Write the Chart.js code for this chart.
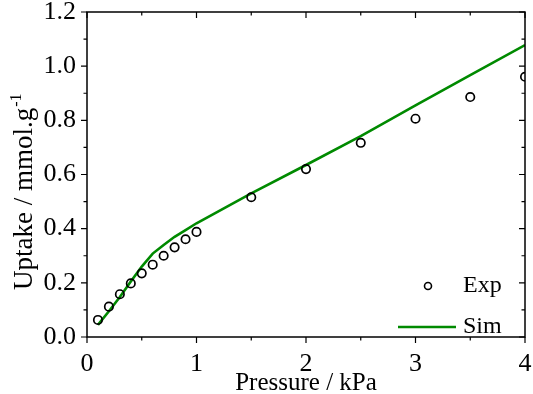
<!DOCTYPE html>
<html>
<head>
<meta charset="utf-8">
<script src="https://cdn.jsdelivr.net/npm/chart.js@4.4.0/dist/chart.umd.min.js"></script>
<style>
  html, body { margin: 0; padding: 0; background: #fff; }
  #wrap { width: 533px; height: 394px; }
</style>
</head>
<body>
<div id="wrap"><canvas id="grafico"></canvas></div>
<script>
// dados
const pressaoExp = [0.1, 0.2, 0.3, 0.4, 0.5, 0.6, 0.7, 0.8, 0.9, 1.0, 1.5, 2.0, 2.5, 3.0, 3.5, 4.0];
const uptakeExp = [0.063, 0.112, 0.158, 0.198, 0.235, 0.267, 0.300, 0.331, 0.361, 0.388, 0.516, 0.620, 0.717, 0.806, 0.886, 0.961];
const pressaoSim = [0.1, 0.2, 0.3, 0.4, 0.5, 0.6, 0.7, 0.8, 0.9, 1.0, 1.5, 2.0, 2.5, 3.0, 3.5, 4.0];
const uptakeSim = [0.045, 0.095, 0.148, 0.205, 0.260, 0.308, 0.340, 0.370, 0.395, 0.420, 0.530, 0.635, 0.742, 0.855, 0.967, 1.078];
const xTicks = [0, 1, 2, 3, 4];
const yTicks = [0.0, 0.2, 0.4, 0.6, 0.8, 1.0, 1.2];
const tituloX = 'Pressure / kPa';
const tituloY = 'Uptake / mmol.g';
const tituloYSup = '-1';

const fonte = 'Liberation Serif';
const verde = '#008a00';

// moldura com ticks (principais e secundarios) nos quatro lados, titulos e legenda
const moldura = {
    id: 'moldura',
    afterDatasetsDraw(chart) {
        const ctx = chart.ctx;
        const a = chart.chartArea;
        const sx = chart.scales.x, sy = chart.scales.y;
        ctx.save();
        ctx.strokeStyle = '#000';
        ctx.lineWidth = 1.5;
        ctx.strokeRect(a.left, a.top, a.right - a.left, a.bottom - a.top);
        ctx.lineWidth = 1.2;
        ctx.beginPath();
        for (let v = 0; v <= 4.0001; v += 0.5) {
            const px = sx.getPixelForValue(v);
            const len = Math.abs(v - Math.round(v)) < 1e-6 ? 6 : 3.5;
            ctx.moveTo(px, a.bottom); ctx.lineTo(px, a.bottom + len);
            ctx.moveTo(px, a.top); ctx.lineTo(px, a.top + len);
        }
        for (let i = 0; i <= 12; i++) {
            const v = i / 10;
            const py = sy.getPixelForValue(v);
            const len = i % 2 === 0 ? 6 : 3.5;
            ctx.moveTo(a.left, py); ctx.lineTo(a.left - len, py);
            ctx.moveTo(a.right, py); ctx.lineTo(a.right - len, py);
        }
        ctx.stroke();

        // titulos dos eixos
        ctx.fillStyle = '#000';
        ctx.textBaseline = 'alphabetic';
        ctx.textAlign = 'center';
        ctx.font = '25px "' + fonte + '"';
        ctx.fillText(tituloX, (a.left + a.right) / 2, 390);

        ctx.save();
        ctx.translate(32, 290);
        ctx.rotate(-Math.PI / 2);
        ctx.textAlign = 'left';
        ctx.font = '27px "' + fonte + '"';
        ctx.fillText(tituloY, 0, 0);
        const w = ctx.measureText(tituloY).width;
        ctx.font = '16px "' + fonte + '"';
        ctx.fillText(tituloYSup, w + 1, -11);
        ctx.restore();

        // legenda dentro da area do grafico
        const ds = chart.data.datasets;
        ctx.font = '24px "' + fonte + '"';
        ctx.textAlign = 'left';
        ctx.textBaseline = 'middle';
        const lx = a.right - 62, ly1 = a.bottom - 51, ly2 = a.bottom - 10;
        ctx.beginPath();
        ctx.arc(lx - 35, ly1, 3.5, 0, Math.PI * 2);
        ctx.lineWidth = 1.6;
        ctx.strokeStyle = ds[0].borderColor;
        ctx.stroke();
        ctx.fillText(ds[0].label, lx, ly1);
        ctx.beginPath();
        ctx.moveTo(lx - 65, ly2); ctx.lineTo(lx - 7, ly2);
        ctx.strokeStyle = ds[1].borderColor;
        ctx.lineWidth = 2.5;
        ctx.stroke();
        ctx.fillText(ds[1].label, lx, ly2);
        ctx.restore();
    }
};

const ctxGrafico = document.getElementById('grafico').getContext('2d');
const grafico = new Chart(ctxGrafico, {
    type: 'scatter',
    data: {
        datasets: [{
            label: 'Exp',
            data: pressaoExp.map((p, i) => ({ x: p, y: uptakeExp[i] })),
            borderColor: '#000',
            backgroundColor: 'rgba(0,0,0,0)',
            pointRadius: 4.2,
            pointBorderWidth: 1.7,
            showLine: false
        }, {
            label: 'Sim',
            data: pressaoSim.map((p, i) => ({ x: p, y: uptakeSim[i] })),
            borderColor: verde,
            backgroundColor: verde,
            borderWidth: 2.6,
            pointRadius: 0,
            showLine: true,
            tension: 0
        }]
    },
    options: {
        responsive: true,
        maintainAspectRatio: false,
        animation: false,
        layout: { padding: 0 },
        plugins: { legend: { display: false }, tooltip: { enabled: false } },
        scales: {
            x: {
                type: 'linear', min: 0, max: 4,
                afterBuildTicks: s => { s.ticks = xTicks.map(v => ({ value: v })); },
                afterFit: s => { s.height = 57; s.paddingLeft = 0; s.paddingRight = 8; },
                ticks: { color: '#000', padding: 12, font: { family: fonte, size: 26 }, callback: v => String(v) },
                grid: { display: false, drawTicks: false },
                border: { display: false },
                title: { display: false }
            },
            y: {
                type: 'linear', min: 0, max: 1.2,
                afterBuildTicks: s => { s.ticks = yTicks.map(v => ({ value: v })); },
                afterFit: s => { s.width = 87; s.paddingTop = 12; s.paddingBottom = 0; },
                ticks: { color: '#000', padding: 11, font: { family: fonte, size: 26 }, callback: v => Number(v).toFixed(1) },
                grid: { display: false, drawTicks: false },
                border: { display: false },
                title: { display: false }
            }
        }
    },
    plugins: [moldura]
});
</script>
</body>
</html>
